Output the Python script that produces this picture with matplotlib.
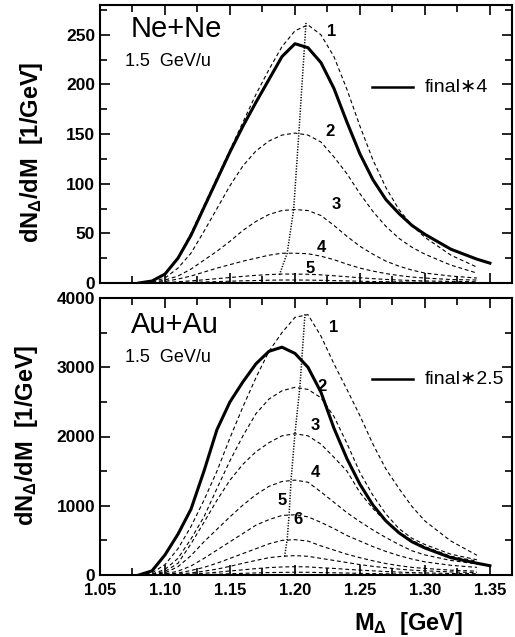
import matplotlib

matplotlib.use("Agg")

import matplotlib.pyplot as plt
from matplotlib.ticker import MultipleLocator
from matplotlib.transforms import ScaledTranslation

plt.rcParams["font.family"] = ["Liberation Sans", "DejaVu Sans"]
plt.rcParams["mathtext.fontset"] = "custom"
plt.rcParams["mathtext.rm"] = "Liberation Sans:bold"
plt.rcParams["mathtext.it"] = "Liberation Sans:bold"
plt.rcParams["mathtext.bf"] = "Liberation Sans:bold"

# common mass grid (GeV)
mass = [1.08, 1.09, 1.10, 1.11, 1.12, 1.13, 1.14, 1.15, 1.16, 1.17, 1.18, 1.19, 1.20,
        1.21, 1.22, 1.23, 1.24, 1.25, 1.26, 1.27, 1.28, 1.29, 1.30, 1.32, 1.34]
mass_final = mass + [1.35]

# Ne+Ne, 1.5 GeV/u
ne_final = [0, 2, 9, 25, 48, 76, 104, 132, 158, 182, 205, 228, 241,
            237, 222, 196, 162, 130, 104, 84, 70, 58, 49, 34, 24, 20]
ne_curves = [
    [0, 2, 9, 26, 50, 78, 106, 134, 162, 190, 215, 238, 254, 260, 250, 228, 195, 158, 124, 96, 74, 58, 46, 28, 16],
    [0, 1, 5, 15, 30, 52, 75, 98, 118, 133, 143, 149, 151, 149, 142, 127, 110, 90, 72, 57, 45, 36, 29, 18, 10],
    [0, 0.5, 3, 7, 14, 23, 32, 42, 53, 62, 69, 73, 74, 73, 68, 58, 47, 37, 29, 22, 17, 13, 10, 7, 5],
    [0, 0.3, 1.5, 4, 7, 11, 15, 18.5, 22, 25, 28, 30, 30, 29.5, 27, 23.5, 19, 15, 12, 9.5, 7.5, 6, 5, 3.5, 3],
    [0, 0.1, 0.5, 1.2, 2.2, 3.2, 4.4, 5.5, 6.7, 7.7, 8.5, 9, 9, 8.8, 8.2, 7.3, 6.3, 5.3, 4.4, 3.6, 3, 2.5, 2.1, 1.6, 1.2],
    [0, 0, 0.2, 0.4, 0.7, 1.0, 1.4, 1.8, 2.2, 2.5, 2.8, 3, 3, 2.9, 2.7, 2.4, 2.1, 1.8, 1.5, 1.3, 1.1, 0.9, 0.8, 0.6, 0.5],
]
ne_peak_x = [1.2085, 1.203, 1.199, 1.194, 1.188]
ne_peak_y = [262, 151, 74, 30, 8]
ne_label_x = [1.228, 1.227, 1.2315, 1.2205, 1.2115]
ne_label_y = [253, 153, 79, 36, 15]
ne_labels = ["1", "2", "3", "4", "5"]

# Au+Au, 1.5 GeV/u
au_final = [0, 60, 290, 590, 950, 1500, 2100, 2500, 2790, 3050, 3230, 3290, 3200,
            3000, 2640, 2120, 1680, 1310, 1010, 780, 610, 480, 390, 250, 170, 134]
au_curves = [
    [0, 30, 150, 380, 700, 1080, 1500, 1980, 2430, 2850, 3230, 3500, 3720, 3760, 3450, 3050, 2680, 2300, 1890, 1530, 1250, 990, 780, 490, 285],
    [0, 15, 80, 240, 520, 840, 1250, 1650, 2010, 2330, 2540, 2660, 2710, 2680, 2560, 2290, 1900, 1480, 1150, 880, 670, 530, 440, 300, 220],
    [0, 10, 50, 170, 450, 760, 1080, 1370, 1600, 1780, 1910, 2010, 2040, 2010, 1890, 1700, 1500, 1190, 960, 770, 620, 500, 410, 270, 200],
    [0, 5, 30, 120, 280, 480, 660, 840, 1010, 1160, 1280, 1350, 1370, 1340, 1200, 1050, 900, 770, 650, 540, 440, 350, 290, 210, 160],
    [0, 3, 15, 55, 130, 240, 360, 480, 600, 720, 800, 860, 870, 840, 760, 670, 570, 490, 410, 340, 280, 230, 190, 140, 110],
    [0, 2, 8, 28, 65, 110, 170, 240, 310, 380, 450, 500, 510, 490, 420, 360, 300, 250, 205, 165, 135, 110, 95, 70, 55],
    [0, 1, 4, 13, 30, 55, 85, 125, 170, 210, 250, 270, 280, 270, 240, 210, 180, 150, 125, 105, 85, 70, 60, 45, 35],
    [0, 0.5, 2, 6, 13, 25, 40, 58, 75, 92, 107, 116, 120, 117, 105, 95, 82, 70, 60, 50, 42, 35, 30, 22, 18],
    [0, 0, 1, 2, 4, 8, 12, 18, 24, 30, 35, 38, 40, 39, 35, 32, 28, 24, 20, 17, 14, 12, 10, 7, 6],
]
au_peak_x = [1.2077, 1.2038, 1.200, 1.197, 1.1955, 1.194, 1.192]
au_peak_y = [3766, 2717, 2045, 1371, 870, 510, 264]
au_label_x = [1.2295, 1.2205, 1.2154, 1.2154, 1.1902, 1.2026]
au_label_y = [3574, 2717, 2164, 1477, 1073, 804]
au_labels = ["1", "2", "3", "4", "5", "6"]

dash = (0, (3.5, 2.5))
dots = (0, (0.8, 1.0))


def draw_panel(ax, curves, final, peak_x, peak_y, label_x, label_y, labels,
               title, title_y, legend_text, legend_y, ymax, major, minor):
    for values in curves:
        ax.plot(mass, values, color="black", lw=0.8, linestyle=dash)
    ax.plot(mass_final, final, color="black", lw=2.2)
    ax.plot(peak_x, peak_y, color="black", lw=1.1, linestyle=dots)
    for lx, ly, txt in zip(label_x, label_y, labels):
        ax.text(lx, ly, txt, fontsize=12, fontweight="bold", ha="center", va="center")

    ax.plot([1.259, 1.291], [legend_y, legend_y], color="black", lw=1.8)
    ax.text(1.300, legend_y, legend_text, fontsize=14, ha="left", va="center")
    ax.text(0.075, title_y, title, transform=ax.transAxes, fontsize=21, ha="left", va="center")
    ax.text(0.06, title_y - 0.117, "1.5  GeV/u", transform=ax.transAxes, fontsize=13,
            ha="left", va="center")

    ax.set_xlim(1.05, 1.367)
    ax.set_ylim(0, ymax)
    ax.xaxis.set_major_locator(MultipleLocator(0.05))
    ax.xaxis.set_minor_locator(MultipleLocator(0.025))
    ax.yaxis.set_major_locator(MultipleLocator(major))
    ax.yaxis.set_minor_locator(MultipleLocator(minor))
    ax.tick_params(which="both", direction="in", top=True, right=True, width=1.2)
    ax.tick_params(which="major", length=7, labelsize=12.5)
    ax.tick_params(which="minor", length=5)
    ax.tick_params(axis="x", pad=6)
    for lab in ax.get_xticklabels() + ax.get_yticklabels():
        lab.set_fontweight("bold")
    for sp in ax.spines.values():
        sp.set_linewidth(1.5)
    ax.set_ylabel(r"dN$_\Delta$/dM  [1/GeV]", fontsize=17, fontweight="bold")


fig = plt.figure(figsize=(5.15, 6.37), dpi=100)
ax1 = fig.add_axes([100 / 515, 1 - 283 / 637, 412 / 515, 278 / 637])
ax2 = fig.add_axes([100 / 515, 1 - 575 / 637, 412 / 515, 277 / 637])

draw_panel(ax1, ne_curves, ne_final, ne_peak_x, ne_peak_y, ne_label_x, ne_label_y,
           ne_labels, "Ne+Ne", 0.915, "final\u22174", 197, 280, 50, 25)
draw_panel(ax2, au_curves, au_final, au_peak_x, au_peak_y, au_label_x, au_label_y,
           au_labels, "Au+Au", 0.904, "final\u22172.5", 2828, 4000, 1000, 500)

ax1.tick_params(labelbottom=False)
ax1.yaxis.set_label_coords(-0.133, 0.47)
ax2.yaxis.set_label_coords(-0.146, 0.505)
ax2.set_xlabel(r"M$_\Delta$  [GeV]", fontsize=17, fontweight="bold")
ax2.xaxis.set_label_coords(0.75, -0.125)
for lab in ax2.get_xticklabels():
    lab.set_fontsize(12)

# keep the top "0" and the bottom "4000" from touching
zero_lab = ax1.get_yticklabels()[0]
zero_lab.set_transform(zero_lab.get_transform() + ScaledTranslation(0, 2.5 / 72, fig.dpi_scale_trans))
top_lab = ax2.get_yticklabels()[-1]
top_lab.set_transform(top_lab.get_transform() + ScaledTranslation(0, -2 / 72, fig.dpi_scale_trans))

fig.savefig("out.png", dpi=100)
